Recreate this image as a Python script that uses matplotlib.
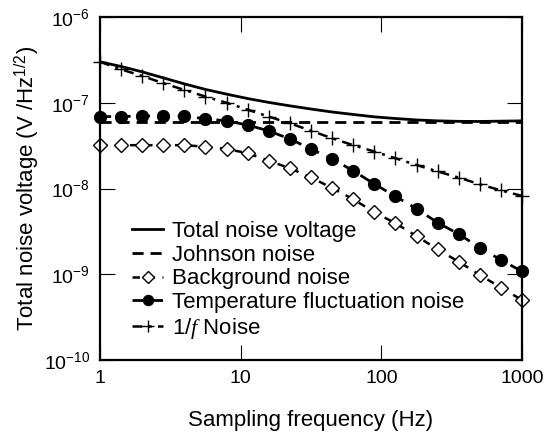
import matplotlib
matplotlib.use("Agg")
import matplotlib.pyplot as plt
from matplotlib.ticker import LogLocator, NullLocator

## 글꼴 설정
plt.rcParams['font.family'] = ['Liberation Sans', 'DejaVu Sans']
plt.rcParams['mathtext.fontset'] = 'custom'
plt.rcParams['mathtext.rm'] = 'Liberation Sans'
plt.rcParams['mathtext.it'] = 'Liberation Serif:italic'
plt.rcParams['axes.unicode_minus'] = False

## 데이터
freq = [1, 1.41, 2.0, 2.82, 3.98, 5.62, 7.94, 11.2, 15.8, 22.4, 31.6,
        44.7, 63.1, 89.1, 126, 178, 251, 355, 501, 708, 1000]

total = [3.0e-7, 2.65e-7, 2.29e-7, 1.95e-7, 1.66e-7, 1.43e-7, 1.26e-7,
         1.12e-7, 1.01e-7, 9.2e-8, 8.45e-8, 7.8e-8, 7.3e-8, 6.85e-8,
         6.55e-8, 6.3e-8, 6.15e-8, 6.07e-8, 6.05e-8, 6.1e-8, 6.15e-8]

johnson = [6.0e-8, 6.0e-8, 6.0e-8, 6.0e-8, 6.0e-8, 6.0e-8, 6.0e-8,
           6.0e-8, 6.0e-8, 6.0e-8, 6.0e-8, 6.0e-8, 6.0e-8, 6.0e-8,
           6.0e-8, 6.0e-8, 6.0e-8, 6.0e-8, 6.0e-8, 6.0e-8, 6.0e-8]

background = [3.2e-8, 3.2e-8, 3.2e-8, 3.2e-8, 3.2e-8, 3.07e-8, 2.89e-8,
              2.58e-8, 2.11e-8, 1.72e-8, 1.35e-8, 1.01e-8, 7.5e-9, 5.3e-9,
              3.93e-9, 2.79e-9, 1.95e-9, 1.40e-9, 9.8e-10, 7.0e-10, 5.0e-10]

temperature = [6.9e-8, 6.9e-8, 7.0e-8, 7.0e-8, 7.0e-8, 6.5e-8, 6.15e-8,
               5.5e-8, 4.7e-8, 3.78e-8, 2.89e-8, 2.21e-8, 1.61e-8, 1.13e-8,
               8.1e-9, 5.8e-9, 4.0e-9, 2.94e-9, 2.04e-9, 1.47e-9, 1.08e-9]

one_over_f = [3.0e-7, 2.45e-7, 2.05e-7, 1.69e-7, 1.41e-7, 1.18e-7, 1.0e-7,
              8.3e-8, 6.9e-8, 5.75e-8, 4.72e-8, 3.85e-8, 3.2e-8, 2.7e-8,
              2.25e-8, 1.88e-8, 1.58e-8, 1.34e-8, 1.12e-8, 9.5e-9, 8.2e-9]

## 그림 생성
fig = plt.figure(figsize=(5.52, 4.32), dpi=100)
ax = fig.add_axes([100/552, 1-360/432, 422/552, 343/432])

ax.plot(freq, total, color='black', lw=2.0, ls='-',
        label='Total noise voltage')
ax.plot(freq, johnson, color='black', lw=2.0, dashes=(4, 2.5),
        label='Johnson noise')
ax.plot(freq, background, color='black', lw=1.8, dashes=(3, 3),
        marker='D', ms=7, mfc='white', mec='black', mew=1.0,
        clip_on=False, label='Background noise')
ax.plot(freq, temperature, color='black', lw=2.0, dashes=(4, 3),
        marker='o', ms=8.5, mfc='black', mec='black',
        clip_on=False, label='Temperature fluctuation noise')
ax.plot(freq, one_over_f, color='black', lw=1.8, dashes=(4, 2.5, 1.2, 2.5),
        marker='+', ms=10, mew=1.0, clip_on=False,
        label=r'1/$f$ Noise')

## 축 설정
ax.set_xscale('log')
ax.set_yscale('log')
ax.set_xlim(1, 1000)
ax.set_ylim(1e-10, 1e-6)
ax.yaxis.set_major_locator(LogLocator(base=10, numticks=10))
ax.xaxis.set_minor_locator(NullLocator())
ax.yaxis.set_minor_locator(NullLocator())
ax.set_xticks([1, 10, 100, 1000])
ax.set_xticklabels(['1', '10', '100', '1000'])

ax.tick_params(which='major', direction='in', length=11, width=0.8,
               top=True, right=True, labelsize=14, pad=7)
for s in ax.spines.values():
    s.set_linewidth(1.6)

ax.set_xlabel('Sampling frequency (Hz)', fontsize=16, labelpad=17)
ax.set_ylabel(r'Total noise voltage (V /Hz$^{1/2}$)', fontsize=16, labelpad=2)

ax.legend(loc='upper left', bbox_to_anchor=(0.076, 0.405), frameon=False,
          fontsize=16, borderpad=0, handlelength=1.4, handletextpad=0.4,
          labelspacing=0.12, borderaxespad=0, markerscale=0.85)

fig.savefig('out.png', dpi=100)
